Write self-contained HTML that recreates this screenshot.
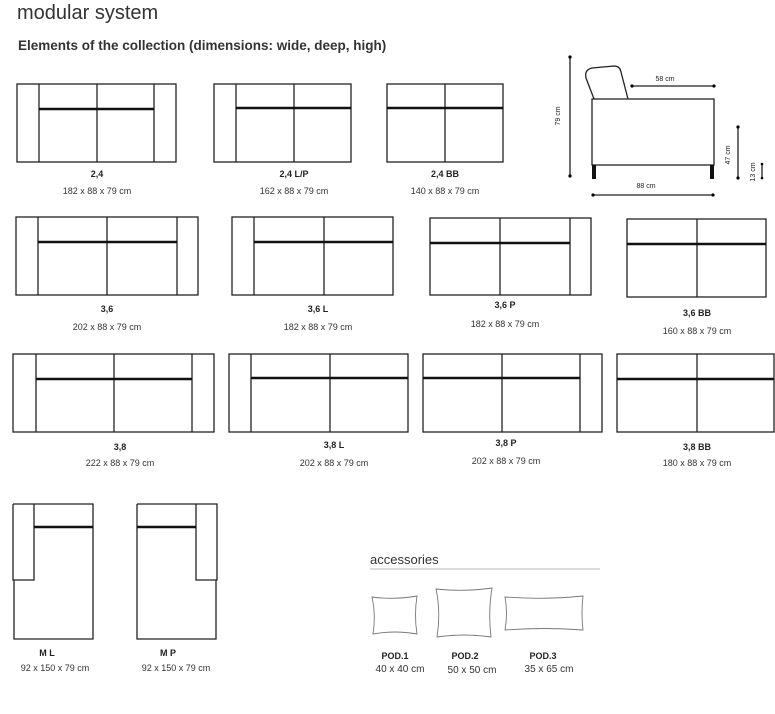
<!DOCTYPE html>
<html><head><meta charset="utf-8"><style>
html,body{margin:0;padding:0;background:#fff;}
svg{display:block;}
text{font-family:"Liberation Sans",sans-serif;fill:#222;}
.n{font-size:9px;font-weight:bold;text-anchor:middle;}
.d{font-size:9px;text-anchor:middle;fill:#333;}
.b{fill:none;stroke:#222;stroke-width:1.3;}
.t{stroke:#111;stroke-width:2.4;}
.l{stroke:#222;stroke-width:1.3;}
.p{fill:none;stroke:#777;stroke-width:0.9;}
</style></head><body>
<svg width="775" height="714" viewBox="0 0 775 714" xmlns="http://www.w3.org/2000/svg">
<text x="17" y="19" style="font-size:20px;fill:#333">modular system</text>
<text x="18" y="50" style="font-size:13.5px;font-weight:bold;fill:#333">Elements of the collection (dimensions: wide, deep, high)</text>

<!-- Row 1 -->
<rect class="b" x="17" y="84" width="159" height="78"/>
<line class="l" x1="39" y1="84" x2="39" y2="162"/><line class="l" x1="154" y1="84" x2="154" y2="162"/>
<line class="l" x1="97" y1="84" x2="97" y2="162"/><line class="t" x1="39" y1="109" x2="154" y2="109"/>
<text class="n" x="97" y="177">2,4</text><text class="d" x="97" y="194">182 x 88 x 79 cm</text>

<rect class="b" x="214" y="84" width="137" height="78"/>
<line class="l" x1="236" y1="84" x2="236" y2="162"/><line class="l" x1="294" y1="84" x2="294" y2="162"/>
<line class="t" x1="236" y1="108" x2="351" y2="108"/>
<text class="n" x="294" y="177">2,4 L/P</text><text class="d" x="294" y="194">162 x 88 x 79 cm</text>

<rect class="b" x="387" y="84" width="116" height="78"/>
<line class="l" x1="445" y1="84" x2="445" y2="162"/><line class="t" x1="387" y1="108" x2="503" y2="108"/>
<text class="n" x="445" y="177">2,4 BB</text><text class="d" x="445" y="194">140 x 88 x 79 cm</text>

<!-- Side view -->
<rect class="b" x="592" y="99" width="122" height="66"/>
<rect x="592" y="165" width="4" height="14" fill="#111"/><rect x="710" y="165" width="4" height="14" fill="#111"/>
<path class="b" d="M594 99 L586 78 Q584 70 592 68 L614 66 Q620 66 621 72 L628 99"/>
<line class="l" x1="570" y1="57" x2="570" y2="176" stroke-width="1"/><circle cx="570" cy="57" r="1.6"/><circle cx="570" cy="176" r="1.6"/>
<text x="560" y="116" transform="rotate(-90 560 116)" style="font-size:7px;text-anchor:middle">79 cm</text>
<line class="l" x1="632" y1="86" x2="714" y2="86" stroke-width="1"/><circle cx="632" cy="86" r="1.6"/><circle cx="714" cy="86" r="1.6"/>
<text x="665" y="81" style="font-size:7px;text-anchor:middle">58 cm</text>
<line class="l" x1="593" y1="195" x2="713" y2="195" stroke-width="1"/><circle cx="593" cy="195" r="1.6"/><circle cx="713" cy="195" r="1.6"/>
<text x="646" y="188" style="font-size:7px;text-anchor:middle">88 cm</text>
<line class="l" x1="738" y1="127" x2="738" y2="178" stroke-width="1"/><circle cx="738" cy="127" r="1.6"/><circle cx="738" cy="178" r="1.6"/>
<text x="730" y="155" transform="rotate(-90 730 155)" style="font-size:7px;text-anchor:middle">47 cm</text>
<line class="l" x1="762" y1="164" x2="762" y2="178" stroke-width="1"/><circle cx="762" cy="164" r="1.3"/><circle cx="762" cy="178" r="1.3"/>
<text x="755" y="172" transform="rotate(-90 755 172)" style="font-size:7px;text-anchor:middle">13 cm</text>

<!-- Row 2 -->
<rect class="b" x="16" y="217" width="182" height="78"/>
<line class="l" x1="38" y1="217" x2="38" y2="295"/><line class="l" x1="177" y1="217" x2="177" y2="295"/>
<line class="l" x1="107" y1="217" x2="107" y2="295"/><line class="t" x1="38" y1="242" x2="177" y2="242"/>
<text class="n" x="107" y="312">3,6</text><text class="d" x="107" y="330">202 x 88 x 79 cm</text>

<rect class="b" x="232" y="217" width="161" height="78"/>
<line class="l" x1="254" y1="217" x2="254" y2="295"/><line class="l" x1="324" y1="217" x2="324" y2="295"/>
<line class="t" x1="254" y1="242" x2="393" y2="242"/>
<text class="n" x="318" y="312">3,6 L</text><text class="d" x="318" y="330">182 x 88 x 79 cm</text>

<rect class="b" x="430" y="218" width="161" height="77"/>
<line class="l" x1="570" y1="218" x2="570" y2="295"/><line class="l" x1="500" y1="218" x2="500" y2="295"/>
<line class="t" x1="430" y1="243" x2="570" y2="243"/>
<text class="n" x="505" y="308">3,6 P</text><text class="d" x="505" y="327">182 x 88 x 79 cm</text>

<rect class="b" x="627" y="219" width="139" height="78"/>
<line class="l" x1="697" y1="219" x2="697" y2="297"/><line class="t" x1="627" y1="244" x2="766" y2="244"/>
<text class="n" x="697" y="316">3,6 BB</text><text class="d" x="697" y="334">160 x 88 x 79 cm</text>

<!-- Row 3 -->
<rect class="b" x="13" y="354" width="201" height="78"/>
<line class="l" x1="36" y1="354" x2="36" y2="432"/><line class="l" x1="192" y1="354" x2="192" y2="432"/>
<line class="l" x1="114" y1="354" x2="114" y2="432"/><line class="t" x1="36" y1="379" x2="192" y2="379"/>
<text class="n" x="120" y="450">3,8</text><text class="d" x="120" y="466">222 x 88 x 79 cm</text>

<rect class="b" x="229" y="354" width="179" height="78"/>
<line class="l" x1="251" y1="354" x2="251" y2="432"/><line class="l" x1="330" y1="354" x2="330" y2="432"/>
<line class="t" x1="251" y1="378" x2="408" y2="378"/>
<text class="n" x="334" y="448">3,8 L</text><text class="d" x="334" y="466">202 x 88 x 79 cm</text>

<rect class="b" x="423" y="354" width="179" height="78"/>
<line class="l" x1="580" y1="354" x2="580" y2="432"/><line class="l" x1="502" y1="354" x2="502" y2="432"/>
<line class="t" x1="423" y1="378" x2="580" y2="378"/>
<text class="n" x="506" y="446">3,8 P</text><text class="d" x="506" y="464">202 x 88 x 79 cm</text>

<rect class="b" x="617" y="354" width="157" height="78"/>
<line class="l" x1="697" y1="354" x2="697" y2="432"/><line class="t" x1="617" y1="379" x2="774" y2="379"/>
<text class="n" x="697" y="450">3,8 BB</text><text class="d" x="697" y="466">180 x 88 x 79 cm</text>

<!-- Row 4 -->
<path class="b" d="M13 504 H93 V639 H14 V580 M13 504 V580 H34 V504"/>
<line class="t" x1="34" y1="527" x2="93" y2="527"/>
<text class="n" x="47" y="656">M L</text><text class="d" x="55" y="671">92 x 150 x 79 cm</text>

<path class="b" d="M137 504 H217 V580 H196 V504 M137 504 V639 H216 V580"/>
<line class="t" x1="137" y1="527" x2="196" y2="527"/>
<text class="n" x="168" y="656">M P</text><text class="d" x="176" y="671">92 x 150 x 79 cm</text>

<!-- Accessories -->
<text x="370" y="564" style="font-size:13px;fill:#333">accessories</text>
<line x1="370" y1="569" x2="600" y2="569" stroke="#bbb" stroke-width="1"/>
<path class="p" d="M372 597 Q394 600 417 596 Q414 615 417 634 Q394 630 373 634 Q376 615 372 597Z"/>
<path class="p" d="M436 589 Q464 592 492 588 Q488 612 491 637 Q464 633 437 637 Q441 612 436 589Z"/>
<path class="p" d="M505 597 Q544 600 583 596 Q581 613 583 630 Q544 627 505 630 Q508 613 505 597Z"/>
<text class="n" x="395" y="659">POD.1</text><text x="400" y="672" style="font-size:10px;text-anchor:middle;fill:#333">40 x 40 cm</text>
<text class="n" x="465" y="659">POD.2</text><text x="472" y="673" style="font-size:10px;text-anchor:middle;fill:#333">50 x 50 cm</text>
<text class="n" x="543" y="659">POD.3</text><text x="549" y="672" style="font-size:10px;text-anchor:middle;fill:#333">35 x 65 cm</text>
</svg>
</body></html>
